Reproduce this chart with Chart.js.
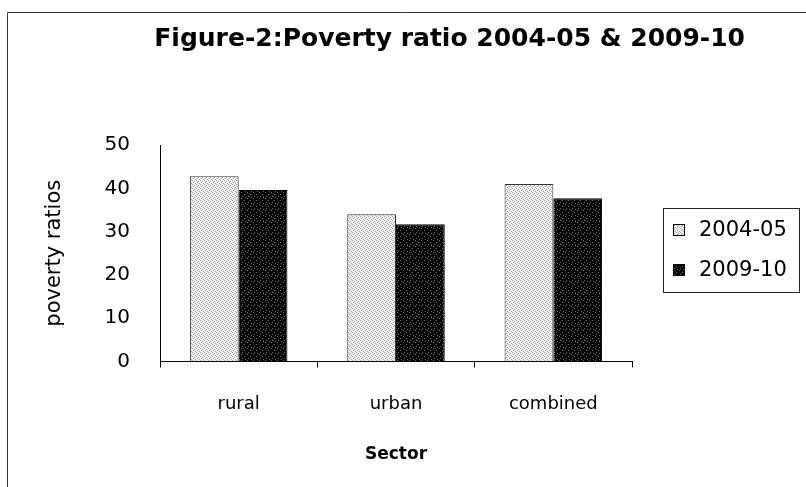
<!DOCTYPE html>
<html>
<head>
<meta charset="utf-8">
<title>Poverty ratio 2004-05 & 2009-10</title>
<script src="https://cdn.jsdelivr.net/npm/chart.js@4/dist/chart.umd.min.js"></script>
<style>
  html, body { margin: 0; padding: 0; background: #ffffff; }
  #wrap { width: 806px; height: 487px; position: relative; }
</style>
</head>
<body>
<div id="wrap"><canvas id="chart" width="806" height="487"></canvas></div>
<script>
// Data
const sectors = ['rural', 'urban', 'combined'];
const seriesNames = ['2004-05', '2009-10'];
const ratio2004 = [42.8, 34.0, 41.0];
const ratio2009 = [39.6, 31.7, 37.7];
const yTicks = [0, 10, 20, 30, 40, 50];

const chartTitle = 'Figure-2:Poverty ratio 2004-05 & 2009-10';
const yTitle = 'poverty ratios';
const xTitle = 'Sector';

const FONT = "'DejaVu Sans', 'Liberation Sans', Arial, sans-serif";

// Stippled fills built from a fixed ordered-dot tile
function stipple(size, base, dot, cells) {
  const c = document.createElement('canvas');
  c.width = size; c.height = size;
  const g = c.getContext('2d');
  g.fillStyle = base;
  g.fillRect(0, 0, size, size);
  g.fillStyle = dot;
  cells.forEach(([x, y]) => g.fillRect(x, y, 1, 1));
  return g.createPattern(c, 'repeat');
}
const lightFill = stipple(4, '#eeeeee', '#a8a8a8', [[0, 0], [2, 1], [1, 2], [3, 3]]);
const darkFill = stipple(6, '#050505', '#6a6a6a', [[1, 0], [4, 2], [2, 4], [5, 5]]);

// Outer frame (left and top edges) and the boxed legend
const framePlugin = {
  id: 'frame',
  afterDraw(chart) {
    const ctx = chart.ctx;
    ctx.save();
    ctx.strokeStyle = '#333333';
    ctx.lineWidth = 1;
    ctx.beginPath();
    ctx.moveTo(7.5, 487);
    ctx.lineTo(7.5, 12.5);
    ctx.lineTo(806, 12.5);
    ctx.stroke();

    // legend
    const lx = 663.5, ly = 208.5, lw = 136, lh = 84;
    ctx.strokeStyle = '#222222';
    ctx.strokeRect(lx, ly, lw, lh);
    const rows = [230, 270];
    chart.data.datasets.forEach((ds, i) => {
      const cy = rows[i];
      ctx.fillStyle = ds.backgroundColor;
      ctx.fillRect(673, cy - 6, 12, 12);
      ctx.strokeStyle = '#000000';
      ctx.strokeRect(673.5, cy - 5.5, 11, 11);
      ctx.fillStyle = '#000000';
      ctx.font = '21px ' + FONT;
      ctx.textAlign = 'left';
      ctx.textBaseline = 'middle';
      ctx.fillText(ds.label, 699, cy + 1);
    });
    ctx.restore();
  }
};

new Chart(document.getElementById('chart'), {
  type: 'bar',
  data: {
    labels: sectors,
    datasets: [
      {
        label: seriesNames[0],
        data: ratio2004,
        backgroundColor: lightFill,
        borderColor: '#333333',
        borderWidth: 1,
        categoryPercentage: 0.62,
        barPercentage: 1.0,
        yAxisID: 'y'
      },
      {
        label: seriesNames[1],
        data: ratio2009,
        backgroundColor: darkFill,
        borderColor: '#000000',
        borderWidth: 1,
        categoryPercentage: 0.62,
        barPercentage: 1.0,
        yAxisID: 'y'
      }
    ]
  },
  options: {
    responsive: false,
    animation: false,
    devicePixelRatio: 1,
    layout: { padding: { left: 22, right: 61, top: 0, bottom: 22 } },
    plugins: {
      legend: { display: false },
      tooltip: { enabled: false },
      title: {
        display: true,
        text: chartTitle,
        align: 'end',
        color: '#000000',
        font: { family: FONT, size: 25, weight: 'bold' },
        padding: { top: 24, bottom: 91 }
      }
    },
    scales: {
      x: {
        offset: true,
        grid: {
          offset: true,
          drawOnChartArea: false,
          drawTicks: true,
          tickLength: 6,
          color: '#000000'
        },
        border: { display: true, color: '#000000', width: 1 },
        ticks: {
          color: '#000000',
          font: { family: FONT, size: 18 },
          padding: 26
        },
        title: {
          display: true,
          text: xTitle,
          color: '#000000',
          font: { family: FONT, size: 17, weight: 'bold' },
          padding: { top: 0, bottom: 0 }
        },
        afterFit(scale) { scale.height = 103.5; }
      },
      y: {
        min: 0,
        max: 50,
        afterBuildTicks(scale) { scale.ticks = yTicks.map(v => ({ value: v })); },
        grid: { drawOnChartArea: false, drawTicks: false },
        border: { display: true, color: '#000000', width: 1 },
        ticks: {
          color: '#000000',
          font: { family: FONT, size: 20 },
          padding: 30
        },
        title: {
          display: true,
          text: yTitle,
          color: '#000000',
          font: { family: FONT, size: 21 },
          padding: { top: 20, bottom: 0 }
        },
        afterFit(scale) { scale.width = 138; }
      },
      side: {
        type: 'linear',
        position: 'right',
        display: true,
        grid: { display: false },
        border: { display: false },
        ticks: { display: false },
        afterFit(scale) { scale.width = 113; }
      }
    }
  },
  plugins: [framePlugin]
});
</script>
</body>
</html>
